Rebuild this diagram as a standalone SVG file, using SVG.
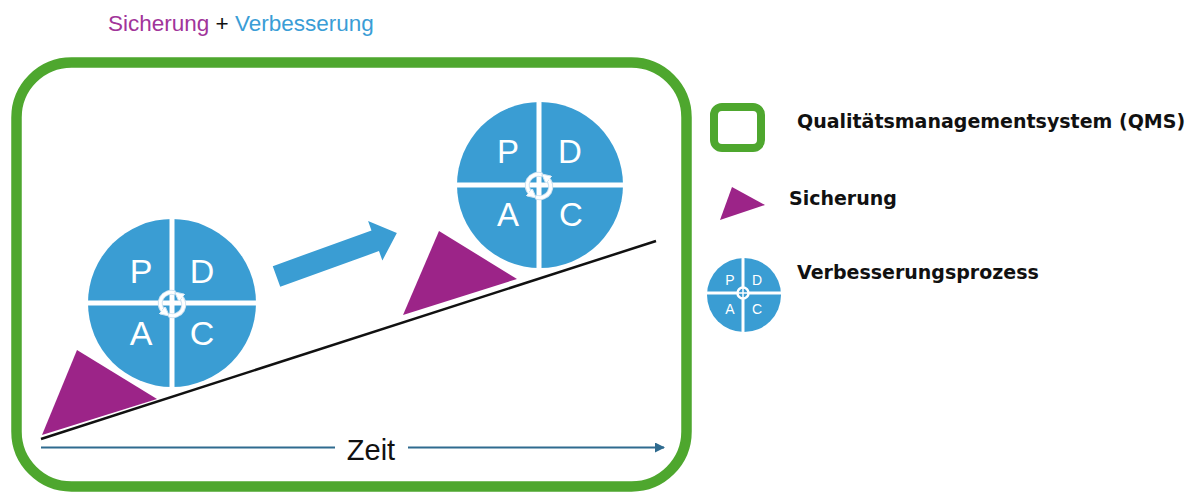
<svg xmlns="http://www.w3.org/2000/svg" width="1197" height="493" viewBox="0 0 1197 493">
  <defs>
    <style>
      .frame { fill: none; stroke: #4EA72E; }
      .disk { fill: #3A9DD3; }
      .div { stroke: #FFFFFF; }
      .letter { fill: #FFFFFF; font-family: "Liberation Sans", Arial, sans-serif; text-anchor: middle; }
      .tri { fill: #9C2488; }
      .legend { fill: #111111; font-family: "DejaVu Sans", sans-serif; font-weight: bold; font-size: 19px; }
      .cyc-o { fill: none; stroke: #CFE3F1; stroke-width: 5; }
      .cyc-i { fill: none; stroke: #FFFFFF; stroke-width: 3; }
    </style>
    <marker id="cycHead" viewBox="0 0 10 10" refX="3" refY="5" markerWidth="3.2" markerHeight="3.2" markerUnits="strokeWidth" orient="auto">
      <path d="M0,0 L10,5 L0,10 Z" fill="#FFFFFF" stroke="#CFE3F1" stroke-width="1"/>
    </marker>
    <marker id="timeHead" viewBox="0 0 10 10" refX="9" refY="5" markerWidth="5" markerHeight="5" markerUnits="strokeWidth" orient="auto">
      <path d="M0,0 L10,5 L0,10 Z" fill="#2F6B8F"/>
    </marker>
    <g id="cycle">
      <path class="cyc-o" d="M3,-11 A11 11 0 0 0 -7.8,7.8"/>
      <path class="cyc-o" d="M-3,11 A11 11 0 0 0 7.8,-7.8"/>
      <path class="cyc-i" d="M3,-11 A11 11 0 0 0 -7.8,7.8" marker-end="url(#cycHead)"/>
      <path class="cyc-i" d="M-3,11 A11 11 0 0 0 7.8,-7.8" marker-end="url(#cycHead)"/>
    </g>
  </defs>

  <rect width="1197" height="493" fill="#FFFFFF"/>

  <g id="title">
    <text x="108" y="31" font-family="'Liberation Sans', Arial, sans-serif" font-size="22.5"><tspan fill="#A1349A">Sicherung</tspan><tspan fill="#111111"> + </tspan><tspan fill="#3A9DD6">Verbesserung</tspan></text>
  </g>

  <g id="qms-frame">
    <rect class="frame" x="16.5" y="62.5" width="670" height="424" rx="55" ry="55" stroke-width="10.5"/>
  </g>

  <g id="connectors">
    <line id="slope" x1="41" y1="439" x2="656" y2="241" stroke="#111111" stroke-width="2.5"/>
    <g id="time-axis">
      <line x1="41" y1="447.5" x2="335" y2="447.5" stroke="#2F6B8F" stroke-width="2"/>
      <line x1="408" y1="447.5" x2="664" y2="447.5" stroke="#2F6B8F" stroke-width="2" marker-end="url(#timeHead)"/>
      <text x="371" y="460" font-family="'Liberation Sans', Arial, sans-serif" font-size="29" fill="#111111" text-anchor="middle">Zeit</text>
    </g>
    <g id="improvement-arrow">
      <polygon transform="translate(276.5,276.5) rotate(-19.9)" points="0,-11 105,-11 105,-21 128,0 105,21 105,11 0,11" fill="#3A9DD3"/>
    </g>
  </g>

  <g id="sicherung-1">
    <polygon class="tri" points="77,350 157,399 42,435"/>
  </g>
  <g id="sicherung-2">
    <polygon class="tri" points="439,231 517,279 403,315"/>
  </g>

  <g id="pdca-1">
    <circle class="disk" cx="172" cy="303" r="84"/>
    <line class="div" x1="86" y1="303" x2="258" y2="303" stroke-width="5"/>
    <line class="div" x1="172" y1="217" x2="172" y2="389" stroke-width="5"/>
    <text class="letter" x="141" y="283" font-size="34">P</text>
    <text class="letter" x="202" y="283" font-size="34">D</text>
    <text class="letter" x="141" y="345" font-size="34">A</text>
    <text class="letter" x="202" y="345" font-size="34">C</text>
    <use href="#cycle" transform="translate(172,304)"/>
  </g>

  <g id="pdca-2">
    <circle class="disk" cx="540" cy="185" r="83"/>
    <line class="div" x1="455" y1="185" x2="625" y2="185" stroke-width="5"/>
    <line class="div" x1="539" y1="100" x2="539" y2="270" stroke-width="5"/>
    <text class="letter" x="508" y="163" font-size="33">P</text>
    <text class="letter" x="570" y="163" font-size="33">D</text>
    <text class="letter" x="508" y="226" font-size="33">A</text>
    <text class="letter" x="571" y="226" font-size="33">C</text>
    <use href="#cycle" transform="translate(539,186)"/>
  </g>

  <g id="legend-qms">
    <rect class="frame" x="714" y="107" width="47" height="41" rx="8" ry="8" stroke-width="8"/>
    <text class="legend" x="797" y="128">Qualitätsmanagementsystem (QMS)</text>
  </g>

  <g id="legend-sicherung">
    <polygon class="tri" points="732,187 765,205 720,220"/>
    <text class="legend" x="789" y="205">Sicherung</text>
  </g>

  <g id="legend-verbesserung">
    <circle class="disk" cx="744" cy="295" r="37"/>
    <line class="div" x1="706" y1="293" x2="782" y2="293" stroke-width="3"/>
    <line class="div" x1="743" y1="257" x2="743" y2="333" stroke-width="3"/>
    <circle cx="743" cy="293" r="5.5" fill="#3A9DD3" stroke="#FFFFFF" stroke-width="2.5"/>
    <line class="div" x1="736" y1="293" x2="750" y2="293" stroke-width="1.5"/>
    <line class="div" x1="743" y1="286" x2="743" y2="300" stroke-width="1.5"/>
    <text class="letter" x="730" y="285" font-size="14">P</text>
    <text class="letter" x="757" y="285" font-size="14">D</text>
    <text class="letter" x="730" y="314" font-size="14">A</text>
    <text class="letter" x="757" y="314" font-size="14">C</text>
    <text class="legend" x="797" y="279">Verbesserungsprozess</text>
  </g>
</svg>
